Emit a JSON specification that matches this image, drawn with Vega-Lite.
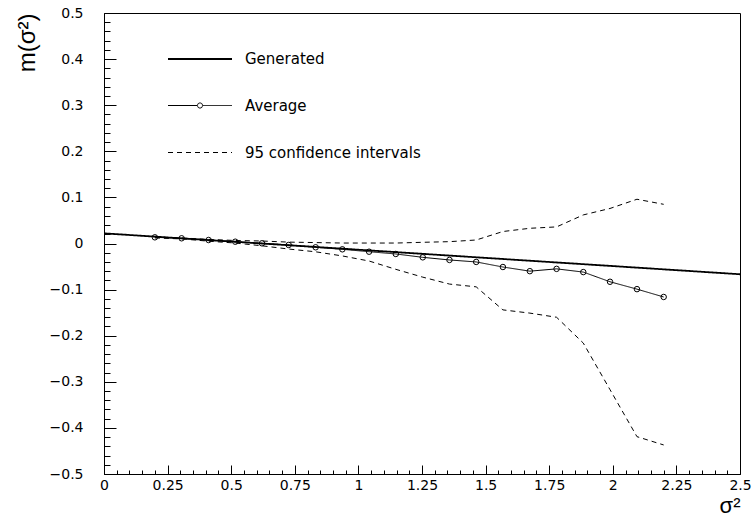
{
  "$schema": "https://vega.github.io/schema/vega-lite/v6.json",
  "width": 636,
  "height": 461,
  "autosize": {"type": "none"},
  "padding": {"left": 104, "top": 13, "right": 13, "bottom": 44},
  "background": "white",
  "config": {
    "view": {"stroke": "black", "strokeWidth": 1},
    "axis": {
      "domainColor": "black",
      "domainWidth": 1,
      "tickColor": "black",
      "tickWidth": 1,
      "labelColor": "black",
      "labelFont": "DejaVu Sans",
      "labelFontSize": 14,
      "grid": false,
      "titleFontWeight": "normal",
      "titleColor": "black",
      "labelOverlap": false,
      "labelFlush": false
    }
  },
  "datasets": {
    "curves": [
      {"s2": 0, "m": 0.022, "series": "Generated", "bound": "g"},
      {"s2": 2.5, "m": -0.0667, "series": "Generated", "bound": "g"},
      {"s2": 0.2, "m": 0.0134, "series": "Average", "bound": "a"},
      {"s2": 0.305, "m": 0.0113, "series": "Average", "bound": "a"},
      {"s2": 0.411, "m": 0.0076, "series": "Average", "bound": "a"},
      {"s2": 0.516, "m": 0.0039, "series": "Average", "bound": "a"},
      {"s2": 0.621, "m": 0.0004, "series": "Average", "bound": "a"},
      {"s2": 0.726, "m": -0.0032, "series": "Average", "bound": "a"},
      {"s2": 0.832, "m": -0.0082, "series": "Average", "bound": "a"},
      {"s2": 0.937, "m": -0.0126, "series": "Average", "bound": "a"},
      {"s2": 1.042, "m": -0.0178, "series": "Average", "bound": "a"},
      {"s2": 1.147, "m": -0.0227, "series": "Average", "bound": "a"},
      {"s2": 1.253, "m": -0.030, "series": "Average", "bound": "a"},
      {"s2": 1.358, "m": -0.0357, "series": "Average", "bound": "a"},
      {"s2": 1.463, "m": -0.040, "series": "Average", "bound": "a"},
      {"s2": 1.568, "m": -0.051, "series": "Average", "bound": "a"},
      {"s2": 1.674, "m": -0.060, "series": "Average", "bound": "a"},
      {"s2": 1.779, "m": -0.055, "series": "Average", "bound": "a"},
      {"s2": 1.884, "m": -0.062, "series": "Average", "bound": "a"},
      {"s2": 1.989, "m": -0.083, "series": "Average", "bound": "a"},
      {"s2": 2.095, "m": -0.099, "series": "Average", "bound": "a"},
      {"s2": 2.2, "m": -0.116, "series": "Average", "bound": "a"},
      {"s2": 0.2, "m": 0.014, "series": "95 confidence intervals", "bound": "upper"},
      {"s2": 0.305, "m": 0.012, "series": "95 confidence intervals", "bound": "upper"},
      {"s2": 0.411, "m": 0.009, "series": "95 confidence intervals", "bound": "upper"},
      {"s2": 0.516, "m": 0.0065, "series": "95 confidence intervals", "bound": "upper"},
      {"s2": 0.621, "m": 0.0054, "series": "95 confidence intervals", "bound": "upper"},
      {"s2": 0.726, "m": 0.003, "series": "95 confidence intervals", "bound": "upper"},
      {"s2": 0.832, "m": 0.002, "series": "95 confidence intervals", "bound": "upper"},
      {"s2": 0.937, "m": 0.001, "series": "95 confidence intervals", "bound": "upper"},
      {"s2": 1.042, "m": 0.001, "series": "95 confidence intervals", "bound": "upper"},
      {"s2": 1.147, "m": 0.001, "series": "95 confidence intervals", "bound": "upper"},
      {"s2": 1.253, "m": 0.0026, "series": "95 confidence intervals", "bound": "upper"},
      {"s2": 1.358, "m": 0.004, "series": "95 confidence intervals", "bound": "upper"},
      {"s2": 1.463, "m": 0.0076, "series": "95 confidence intervals", "bound": "upper"},
      {"s2": 1.568, "m": 0.026, "series": "95 confidence intervals", "bound": "upper"},
      {"s2": 1.674, "m": 0.033, "series": "95 confidence intervals", "bound": "upper"},
      {"s2": 1.779, "m": 0.036, "series": "95 confidence intervals", "bound": "upper"},
      {"s2": 1.884, "m": 0.062, "series": "95 confidence intervals", "bound": "upper"},
      {"s2": 1.989, "m": 0.076, "series": "95 confidence intervals", "bound": "upper"},
      {"s2": 2.095, "m": 0.096, "series": "95 confidence intervals", "bound": "upper"},
      {"s2": 2.2, "m": 0.085, "series": "95 confidence intervals", "bound": "upper"},
      {"s2": 0.2, "m": 0.012, "series": "95 confidence intervals", "bound": "lower"},
      {"s2": 0.305, "m": 0.010, "series": "95 confidence intervals", "bound": "lower"},
      {"s2": 0.411, "m": 0.005, "series": "95 confidence intervals", "bound": "lower"},
      {"s2": 0.516, "m": 0.001, "series": "95 confidence intervals", "bound": "lower"},
      {"s2": 0.621, "m": -0.005, "series": "95 confidence intervals", "bound": "lower"},
      {"s2": 0.726, "m": -0.012, "series": "95 confidence intervals", "bound": "lower"},
      {"s2": 0.832, "m": -0.018, "series": "95 confidence intervals", "bound": "lower"},
      {"s2": 0.937, "m": -0.027, "series": "95 confidence intervals", "bound": "lower"},
      {"s2": 1.042, "m": -0.038, "series": "95 confidence intervals", "bound": "lower"},
      {"s2": 1.147, "m": -0.056, "series": "95 confidence intervals", "bound": "lower"},
      {"s2": 1.253, "m": -0.073, "series": "95 confidence intervals", "bound": "lower"},
      {"s2": 1.358, "m": -0.088, "series": "95 confidence intervals", "bound": "lower"},
      {"s2": 1.463, "m": -0.094, "series": "95 confidence intervals", "bound": "lower"},
      {"s2": 1.568, "m": -0.144, "series": "95 confidence intervals", "bound": "lower"},
      {"s2": 1.674, "m": -0.151, "series": "95 confidence intervals", "bound": "lower"},
      {"s2": 1.779, "m": -0.160, "series": "95 confidence intervals", "bound": "lower"},
      {"s2": 1.884, "m": -0.216, "series": "95 confidence intervals", "bound": "lower"},
      {"s2": 1.989, "m": -0.317, "series": "95 confidence intervals", "bound": "lower"},
      {"s2": 2.095, "m": -0.419, "series": "95 confidence intervals", "bound": "lower"},
      {"s2": 2.2, "m": -0.437, "series": "95 confidence intervals", "bound": "lower"}
    ]
  },
  "data": {"name": "curves"},
  "resolve": {"axis": {"x": "independent", "y": "independent"}},
  "layer": [
    {
      "mark": {"type": "line", "color": "black"},
      "encoding": {
        "x": {
          "field": "s2", "type": "quantitative",
          "scale": {"domain": [0, 2.5], "nice": false, "zero": false},
          "axis": {
            "orient": "bottom",
            "values": [0, 0.25, 0.5, 0.75, 1, 1.25, 1.5, 1.75, 2, 2.25, 2.5],
            "format": ".2~f",
            "tickSize": -9,
            "labelPadding": 13,
            "title": "σ²",
            "titleFont": "Liberation Sans",
            "titleFontSize": 22,
            "titleX": 636,
            "titleY": 38,
            "titleAlign": "right",
            "titleBaseline": "alphabetic"
          }
        },
        "y": {
          "field": "m", "type": "quantitative",
          "scale": {"domain": [-0.5, 0.5], "nice": false, "zero": false},
          "axis": {
            "orient": "left",
            "values": [-0.5, -0.4, -0.3, -0.2, -0.1, 0, 0.1, 0.2, 0.3, 0.4, 0.5],
            "format": ".1~f",
            "tickSize": -12,
            "labelPadding": 33,
            "title": "m(σ²)",
            "titleFont": "Liberation Sans",
            "titleFontSize": 24,
            "titleX": -70,
            "titleY": 0,
            "titleAngle": 270,
            "titleAlign": "right",
            "titleBaseline": "alphabetic"
          }
        },
        "strokeDash": {
          "field": "series", "type": "nominal",
          "scale": {"domain": ["Generated", "Average", "95 confidence intervals"], "range": [[1, 0], [1, 0], [5, 4]]},
          "legend": {
            "orient": "none",
            "legendX": 85,
            "legendY": 35,
            "title": null,
            "padding": 0,
            "symbolSize": 400,
            "symbolStrokeColor": "black",
            "symbolFillColor": "transparent",
            "labelFont": "DejaVu Sans",
            "labelFontSize": 15,
            "labelColor": "black",
            "labelOffset": 34,
            "rowPadding": 28,
            "labelLimit": 400,
            "encode": {
              "symbols": {
                "update": {
                  "shape": {"signal": "datum.value === 'Average' ? 'M-3.2,0H-0.27M0.27,0H3.2M0.27,0L0.19,0.19L0,0.27L-0.19,0.19L-0.27,0L-0.19,-0.19L0,-0.27L0.19,-0.19Z' : 'M-3.2,0H3.2'"},
                  "strokeDash": {"signal": "datum.value === '95 confidence intervals' ? [5,4] : [1,0]"},
                  "strokeWidth": {"signal": "datum.value === 'Generated' ? 1.8 : 1"},
                  "stroke": {"value": "black"},
                  "fill": {"value": "transparent"}
                }
              }
            }
          }
        },
        "strokeWidth": {
          "field": "series", "type": "nominal",
          "scale": {"type": "ordinal", "domain": ["Generated", "Average", "95 confidence intervals"], "range": [1.8, 1, 1]},
          "legend": null
        },
        "detail": {"field": "bound", "type": "nominal"}
      }
    },
    {
      "transform": [{"filter": "datum.series === 'Average'"}],
      "mark": {"type": "point", "filled": false, "color": "black", "size": 30, "strokeWidth": 1, "opacity": 1},
      "encoding": {
        "x": {
          "field": "s2", "type": "quantitative",
          "axis": {
            "orient": "bottom",
            "values": [0.05,0.1,0.15,0.2,0.3,0.35,0.4,0.45,0.55,0.6,0.65,0.7,0.8,0.85,0.9,0.95,1.05,1.1,1.15,1.2,1.3,1.35,1.4,1.45,1.55,1.6,1.65,1.7,1.8,1.85,1.9,1.95,2.05,2.1,2.15,2.2,2.3,2.35,2.4,2.45],
            "labels": false,
            "domain": false,
            "tickSize": -4,
            "title": null
          }
        },
        "y": {
          "field": "m", "type": "quantitative",
          "axis": {
            "orient": "left",
            "values": [-0.48,-0.46,-0.44,-0.42,-0.38,-0.36,-0.34,-0.32,-0.28,-0.26,-0.24,-0.22,-0.18,-0.16,-0.14,-0.12,-0.08,-0.06,-0.04,-0.02,0.02,0.04,0.06,0.08,0.12,0.14,0.16,0.18,0.22,0.24,0.26,0.28,0.32,0.34,0.36,0.38,0.42,0.44,0.46,0.48],
            "labels": false,
            "domain": false,
            "tickSize": -6,
            "title": null
          }
        }
      }
    }
  ]
}
